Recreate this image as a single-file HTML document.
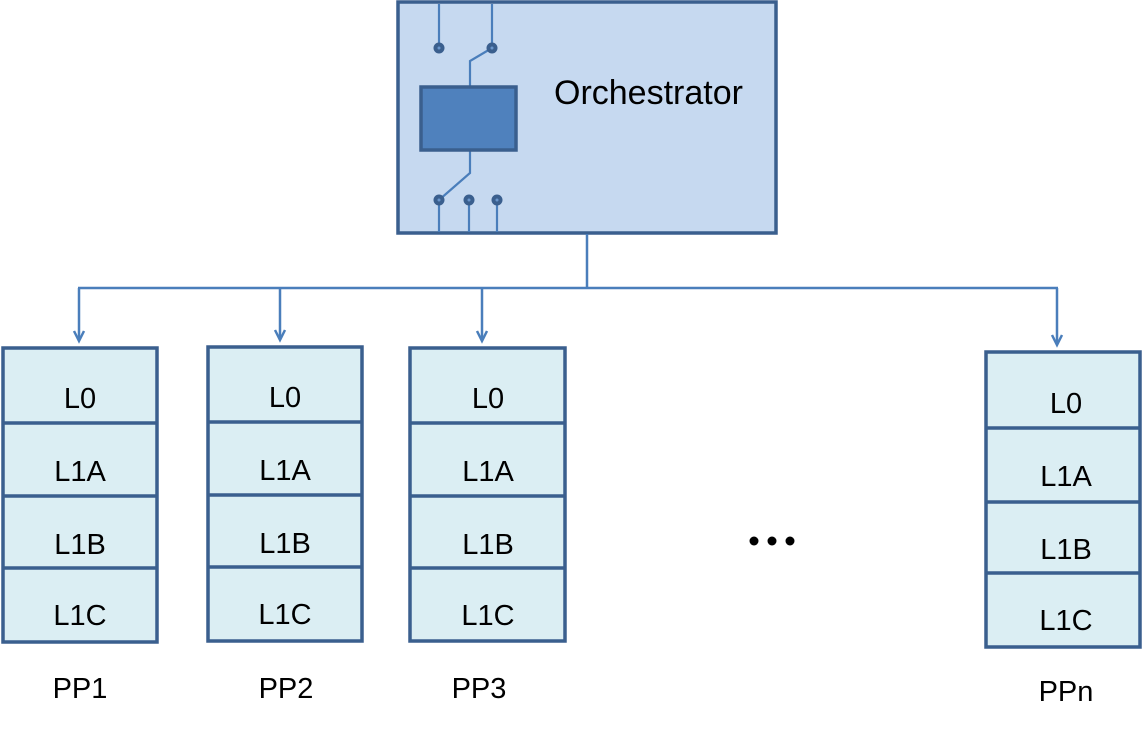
<!DOCTYPE html>
<html><head><meta charset="utf-8"><style>
html,body{margin:0;padding:0;background:#fff;}
svg{display:block;}
text{font-family:"Liberation Sans",sans-serif;fill:#000;}
</style></head><body>
<svg width="1142" height="733" viewBox="0 0 1142 733" xmlns="http://www.w3.org/2000/svg">
<!-- Orchestrator -->
<rect x="398" y="2" width="378" height="231" fill="#C6D9F0" stroke="#3A5F8E" stroke-width="3.5"/>
<g stroke="#4A7EBB" stroke-width="2.2" fill="none">
<line x1="439" y1="4" x2="439" y2="48"/>
<line x1="492" y1="4" x2="492" y2="48"/>
<polyline points="492,48 470,61 470,87"/>
<polyline points="470,150 470,173 439,200"/>
<line x1="439" y1="200" x2="439" y2="232"/>
<line x1="469" y1="200" x2="469" y2="232"/>
<line x1="497" y1="200" x2="497" y2="232"/>
</g>
<g fill="#3A5F8E">
<circle cx="439" cy="48" r="5.5"/><circle cx="492" cy="48" r="5.5"/>
<circle cx="439" cy="200" r="5.5"/><circle cx="469" cy="200" r="5.5"/><circle cx="497" cy="200" r="5.5"/>
</g>
<g fill="#6A96CC">
<circle cx="439" cy="48" r="1.5"/><circle cx="492" cy="48" r="1.5"/>
<circle cx="439" cy="200" r="1.5"/><circle cx="469" cy="200" r="1.5"/><circle cx="497" cy="200" r="1.5"/>
</g>
<rect x="421" y="87" width="95" height="63" fill="#4F81BD" stroke="#3A5F8E" stroke-width="3.5"/>
<text x="554" y="104" font-size="34">Orchestrator</text>
<!-- connectors -->
<g stroke="#4A7EBB" stroke-width="2.5" fill="none">
<line x1="587" y1="234" x2="587" y2="288"/>
<line x1="78" y1="288" x2="1058" y2="288"/>
<line x1="79" y1="288" x2="79" y2="340"/>
<line x1="280" y1="288" x2="280" y2="339"/>
<line x1="482" y1="288" x2="482" y2="340"/>
<line x1="1057" y1="288" x2="1057" y2="344"/>
<path d="M74,331 L79,341 L84,331"/>
<path d="M275,330 L280,340 L285,330"/>
<path d="M477,331 L482,341 L487,331"/>
<path d="M1052,335 L1057,345 L1062,335"/>
</g>
<!-- stacks -->
<g fill="#DBEEF3" stroke="#3A5F8E" stroke-width="3.5">
<rect x="3" y="348" width="154" height="294"/>
<rect x="208" y="347" width="154" height="294"/>
<rect x="410" y="348" width="155" height="293"/>
<rect x="986" y="352" width="154" height="295"/>
</g>
<g stroke="#3A5F8E" stroke-width="3.5">
<line x1="3" y1="423" x2="157" y2="423"/><line x1="3" y1="496" x2="157" y2="496"/><line x1="3" y1="568" x2="157" y2="568"/>
<line x1="208" y1="422" x2="362" y2="422"/><line x1="208" y1="495" x2="362" y2="495"/><line x1="208" y1="567" x2="362" y2="567"/>
<line x1="410" y1="423" x2="565" y2="423"/><line x1="410" y1="496" x2="565" y2="496"/><line x1="410" y1="568" x2="565" y2="568"/>
<line x1="986" y1="428" x2="1140" y2="428"/><line x1="986" y1="502" x2="1140" y2="502"/><line x1="986" y1="573" x2="1140" y2="573"/>
</g>
<g font-size="29" text-anchor="middle">
<text x="80" y="408">L0</text><text x="80" y="481">L1A</text><text x="80" y="554">L1B</text><text x="80" y="625">L1C</text>
<text x="285" y="407">L0</text><text x="285" y="480">L1A</text><text x="285" y="553">L1B</text><text x="285" y="624">L1C</text>
<text x="488" y="408">L0</text><text x="488" y="481">L1A</text><text x="488" y="554">L1B</text><text x="488" y="625">L1C</text>
<text x="1066" y="413">L0</text><text x="1066" y="486">L1A</text><text x="1066" y="559">L1B</text><text x="1066" y="630">L1C</text>
<text x="80" y="698">PP1</text><text x="286" y="698">PP2</text><text x="479" y="698">PP3</text><text x="1066" y="701">PPn</text>
</g>
<g fill="#000"><circle cx="754" cy="541" r="4.5"/><circle cx="772" cy="541" r="4.5"/><circle cx="790" cy="541" r="4.5"/></g>
</svg>
</body></html>
